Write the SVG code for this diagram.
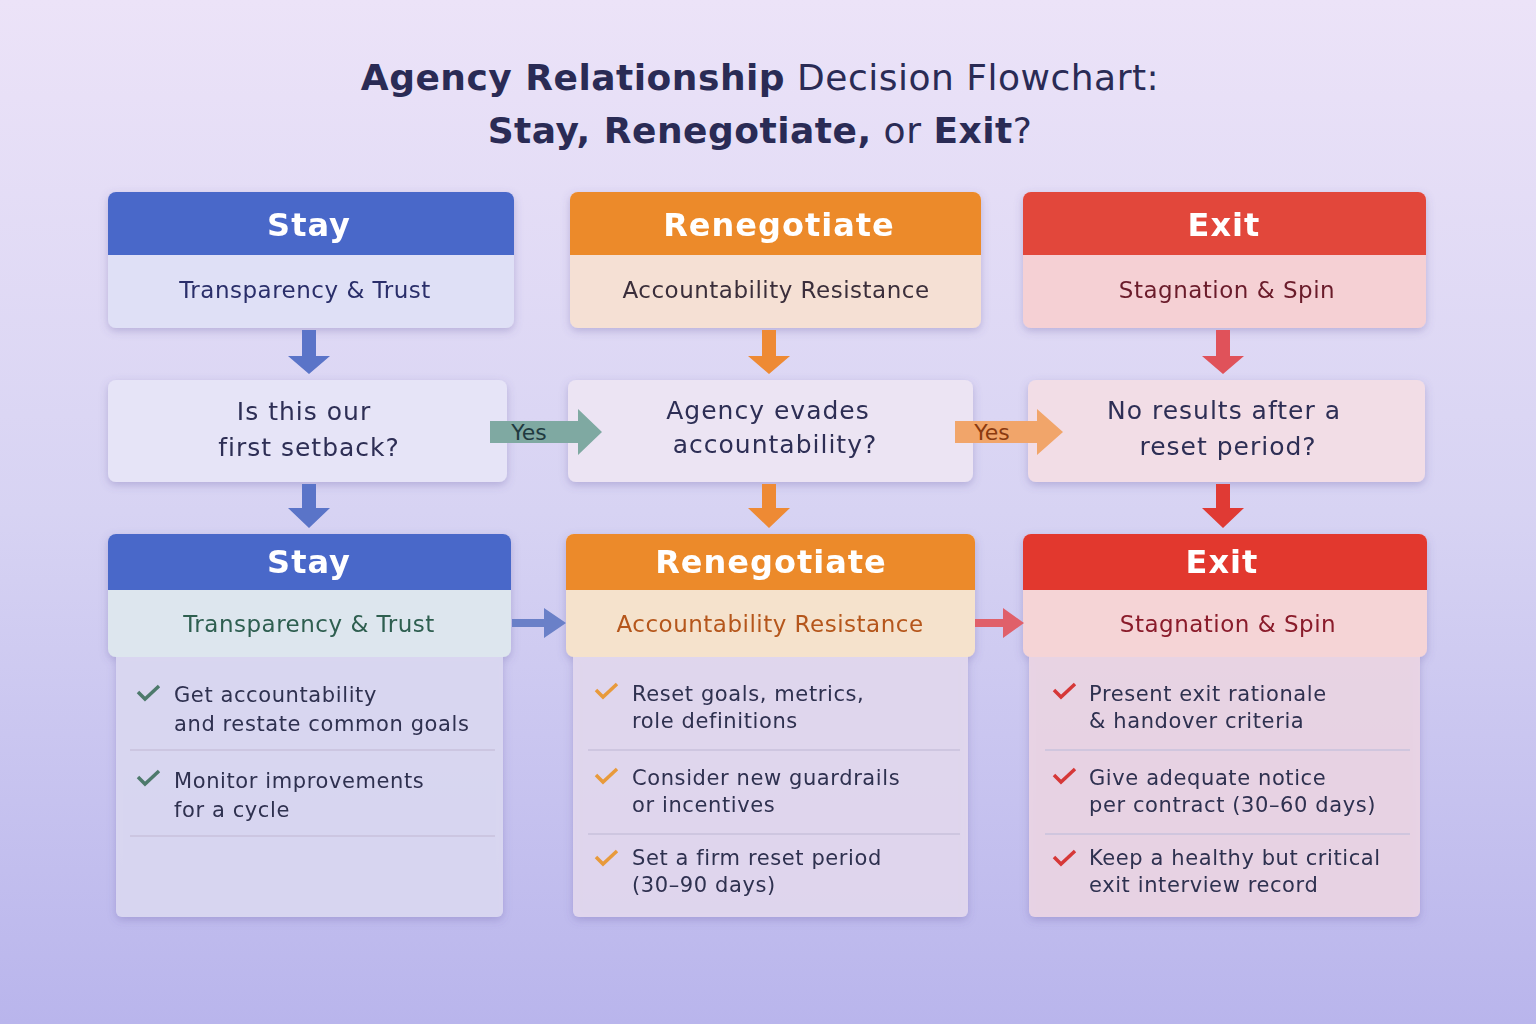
<svg xmlns="http://www.w3.org/2000/svg" width="1536" height="1024" viewBox="0 0 1536 1024">
<defs>
<linearGradient id="bg" x1="0" y1="0" x2="0" y2="1"><stop offset="0" stop-color="#ece3f8"/><stop offset="0.5" stop-color="#d7d3f3"/><stop offset="1" stop-color="#b9b5ec"/></linearGradient>
<filter id="sh" x="-10%" y="-10%" width="120%" height="130%"><feDropShadow dx="0" dy="3" stdDeviation="4" flood-color="#5a4f9a" flood-opacity="0.3"/></filter>
</defs>
<style>
text{font-family:"DejaVu Sans","Liberation Sans",sans-serif}
.t{fill:#2a2b55;text-anchor:middle;letter-spacing:0.5px}
.h{fill:#fff;font-size:32px;font-weight:bold;text-anchor:middle;letter-spacing:1px}
.s{font-size:23px;text-anchor:middle;letter-spacing:0.5px}
.q{font-size:25px;fill:#2d2f55;text-anchor:middle;letter-spacing:1px}
.b{font-size:21px;fill:#2f3050;letter-spacing:0.6px}
.card{filter:url(#sh)}
.div{stroke:#c8c2dd;stroke-width:1.5}
</style>
<rect width="1536" height="1024" fill="url(#bg)"/>
<text class="t" x="760" y="90" font-size="36"><tspan font-weight="bold">Agency Relationship</tspan> Decision Flowchart:</text>
<text class="t" x="760" y="143" font-size="36"><tspan font-weight="bold">Stay, Renegotiate,</tspan> or <tspan font-weight="bold">Exit</tspan>?</text>

<g id="top-stay" class="card">
<rect x="108" y="192" width="406" height="136" rx="8" fill="#dfe0f6"/>
<path d="M116 192h390a8 8 0 0 1 8 8v55H108v-55a8 8 0 0 1 8-8z" fill="#4a67c9"/>
<text class="h" x="309" y="236">Stay</text>
<text class="s" x="305" y="298" fill="#2a2f6a">Transparency &amp; Trust</text>
</g>
<g id="top-reneg" class="card">
<rect x="570" y="192" width="411" height="136" rx="8" fill="#f5e0d4"/>
<path d="M578 192h395a8 8 0 0 1 8 8v55H570v-55a8 8 0 0 1 8-8z" fill="#ec8a2a"/>
<text class="h" x="779" y="236">Renegotiate</text>
<text class="s" x="776" y="298" fill="#3a2f3a">Accountability Resistance</text>
</g>
<g id="top-exit" class="card">
<rect x="1023" y="192" width="403" height="136" rx="8" fill="#f5d0d4"/>
<path d="M1031 192h387a8 8 0 0 1 8 8v55h-403v-55a8 8 0 0 1 8-8z" fill="#e2463a"/>
<text class="h" x="1224" y="236">Exit</text>
<text class="s" x="1227" y="298" fill="#6a1a2a">Stagnation &amp; Spin</text>
</g>

<g id="q-stay" class="card"><rect x="108" y="380" width="399" height="102" rx="8" fill="#e6e4f7"/>
<text class="q" x="304" y="420">Is this our</text><text class="q" x="309" y="456">first setback?</text></g>
<g id="q-reneg" class="card"><rect x="568" y="380" width="405" height="102" rx="8" fill="#ece4f3"/>
<text class="q" x="768" y="419">Agency evades</text><text class="q" x="775" y="453">accountability?</text></g>
<g id="q-exit" class="card"><rect x="1028" y="380" width="397" height="102" rx="8" fill="#f2dde6"/>
<text class="q" x="1224" y="419">No results after a</text><text class="q" x="1228" y="455">reset period?</text></g>

<g id="b-stay" class="card">
<rect x="116" y="640" width="387" height="277" rx="6" fill="#dcd9f2" opacity="0.9"/>
<rect x="108" y="534" width="403" height="123" rx="8" fill="#dde6ee"/>
<path d="M116 534h387a8 8 0 0 1 8 8v48H108v-48a8 8 0 0 1 8-8z" fill="#4a67c9"/>
<text class="h" x="309" y="573">Stay</text>
<text class="s" x="309" y="632" fill="#2e5e50" font-size="25">Transparency &amp; Trust</text>
<text class="b" x="174" y="702">Get accountability</text><text class="b" x="174" y="731" font-size="19">and restate common goals</text>
<line class="div" x1="130" y1="750" x2="495" y2="750"/>
<text class="b" x="174" y="788" font-size="22">Monitor improvements</text><text class="b" x="174" y="817" font-size="22">for a cycle</text>
<line class="div" x1="130" y1="836" x2="495" y2="836"/>
<path d="M138 692l7 7 14-13M138 777l7 7 14-13" stroke="#4e7a6c" stroke-width="3.5" fill="none"/>
</g>
<g id="b-reneg" class="card">
<rect x="573" y="640" width="395" height="277" rx="6" fill="#e3d9ee" opacity="0.9"/>
<rect x="566" y="534" width="409" height="123" rx="8" fill="#f5e2cc"/>
<path d="M574 534h393a8 8 0 0 1 8 8v48H566v-48a8 8 0 0 1 8-8z" fill="#ec8a2a"/>
<text class="h" x="771" y="573">Renegotiate</text>
<text class="s" x="770" y="632" fill="#b5561a" font-size="24">Accountability Resistance</text>
<text class="b" x="632" y="701">Reset goals, metrics,</text><text class="b" x="632" y="728">role definitions</text>
<line class="div" x1="588" y1="750" x2="960" y2="750"/>
<text class="b" x="632" y="785">Consider new guardrails</text><text class="b" x="632" y="812">or incentives</text>
<line class="div" x1="588" y1="834" x2="960" y2="834"/>
<text class="b" x="632" y="865">Set a firm reset period</text><text class="b" x="632" y="892">(30–90 days)</text>
<path d="M596 690l7 7 14-13M596 775l7 7 14-13M596 857l7 7 14-13" stroke="#e89a3a" stroke-width="3.5" fill="none"/>
</g>
<g id="b-exit" class="card">
<rect x="1029" y="640" width="391" height="277" rx="6" fill="#ecd6e4" opacity="0.9"/>
<rect x="1023" y="534" width="404" height="123" rx="8" fill="#f5d4d6"/>
<path d="M1031 534h388a8 8 0 0 1 8 8v48h-404v-48a8 8 0 0 1 8-8z" fill="#e2392e"/>
<text class="h" x="1222" y="573">Exit</text>
<text class="s" x="1228" y="632" fill="#8a1a2a" font-size="24">Stagnation &amp; Spin</text>
<text class="b" x="1089" y="701">Present exit rationale</text><text class="b" x="1089" y="728">&amp; handover criteria</text>
<line class="div" x1="1045" y1="750" x2="1410" y2="750"/>
<text class="b" x="1089" y="785">Give adequate notice</text><text class="b" x="1089" y="812" letter-spacing="0">per contract (30–60 days)</text>
<line class="div" x1="1045" y1="834" x2="1410" y2="834"/>
<text class="b" x="1089" y="865" letter-spacing="0">Keep a healthy but critical</text><text class="b" x="1089" y="892">exit interview record</text>
<path d="M1054 690l7 7 14-13M1054 775l7 7 14-13M1054 857l7 7 14-13" stroke="#d63838" stroke-width="3.5" fill="none"/>
</g>

<g id="connectors">
<path d="M302 330v26h-14l21 18 21-18h-14v-26z" fill="#5a74c8"/>
<path d="M762 330v26h-14l21 18 21-18h-14v-26z" fill="#ee8a34"/>
<path d="M1216 330v26h-14l21 18 21-18h-14v-26z" fill="#e0525a"/>
<path d="M302 484v24h-14l21 20 21-20h-14v-24z" fill="#5a74c8"/>
<path d="M762 484v24h-14l21 20 21-20h-14v-24z" fill="#ee8a34"/>
<path d="M1216 484v24h-14l21 20 21-20h-14v-24z" fill="#e03a34"/>
<path d="M490 421h88v-12l24 23-24 23v-12h-88z" fill="#7fa9a2"/>
<text x="529" y="440" font-size="22" fill="#1f3a40" text-anchor="middle">Yes</text>
<path d="M955 421h82v-12l26 23-26 23v-12h-82z" fill="#f1a56a"/>
<text x="992" y="440" font-size="22" fill="#8a3a10" text-anchor="middle">Yes</text>
<path d="M512 619h32v-11l22 15-22 15v-11h-32z" fill="#6a80c8"/>
<path d="M975 619h28v-11l21 15-21 15v-11h-28z" fill="#e0606a"/>
</g>
</svg>
